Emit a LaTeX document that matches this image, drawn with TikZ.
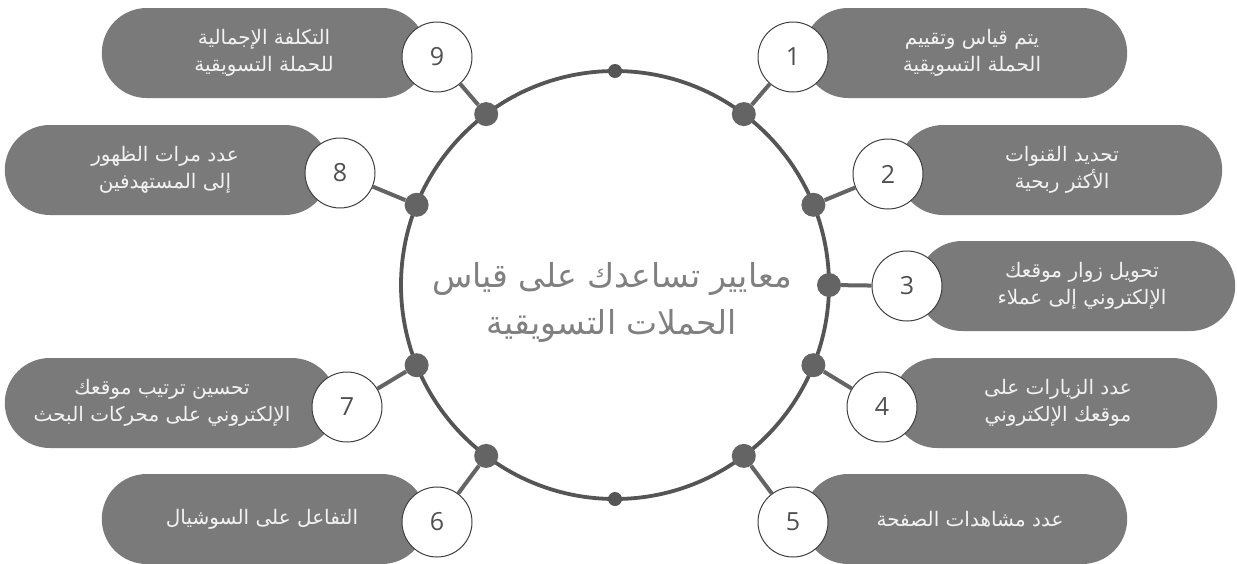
\documentclass[tikz,border=0pt]{standalone}
\usepackage{fontspec}
\TeXXeTstate=1
\setmainfont{Open Sans}
\newfontfamily\arabicfont[Script=Arabic]{DejaVu Sans}
\definecolor{pillgray}{RGB}{122,122,122}
\definecolor{ringgray}{RGB}{85,85,85}
\definecolor{dotgray}{RGB}{100,100,100}
\definecolor{numgray}{RGB}{80,80,80}
\definecolor{titlegray}{RGB}{128,128,128}
\definecolor{pilltext}{RGB}{242,242,242}
\tikzset{
  ring/.style={draw=ringgray, line width=3.8pt},
  bigdot/.style={circle, fill=dotgray, inner sep=0pt, minimum size=24pt},
  smalldot/.style={circle, fill=ringgray, inner sep=0pt, minimum size=14pt},
  link/.style={draw=dotgray, line width=4pt},
  pill/.style={fill=pillgray, rounded corners=45pt, minimum height=90pt, inner sep=0pt},
  numcirc/.style={circle, fill=white, draw=numgray!80!black, line width=1pt, minimum size=70pt, inner sep=0pt, text=numgray, font=\fontsize{25}{25}\selectfont},
  pilllabel/.style={text=pilltext, align=center, font=\arabicfont\fontsize{20}{27}\selectfont},
  titlelabel/.style={text=titlegray, align=center, font=\arabicfont\fontsize{33}{47}\selectfont}
}
\begin{document}
\begin{tikzpicture}[x=1pt,y=-1pt]
\useasboundingbox (0,0) rectangle (1237,563);
\fill[white] (0,0) rectangle (1237,563);
% main ring
\node[circle, ring, minimum size=428pt, inner sep=0pt] (ring) at (615,285) {};
% pills (right)
\node[pill, minimum width=324pt, anchor=west] (p1) at (803,53) {};
\node[pill, minimum width=324pt, anchor=west] (p2) at (898,170) {};
\node[pill, minimum width=318pt, anchor=west] (p3) at (917,286) {};
\node[pill, minimum width=325pt, anchor=west] (p4) at (892,403) {};
\node[pill, minimum width=324pt, anchor=west] (p5) at (803,519) {};
% pills (left)
\node[pill, minimum width=325pt, anchor=east] (p9) at (427,53) {};
\node[pill, minimum width=325pt, anchor=east] (p8) at (330,170) {};
\node[pill, minimum width=332pt, anchor=east] (p7) at (337,403) {};
\node[pill, minimum width=325pt, anchor=east] (p6) at (427,519) {};
% dots on ring
\node[bigdot] (d1) at (743.8,114.1) {};
\node[bigdot] (d2) at (813.4,204.8) {};
\node[bigdot] (d3) at (829,285) {};
\node[bigdot] (d4) at (813.4,365.2) {};
\node[bigdot] (d5) at (743.8,455.9) {};
\node[bigdot] (d6) at (486.2,455.9) {};
\node[bigdot] (d7) at (416.6,365.2) {};
\node[bigdot] (d8) at (416.6,204.8) {};
\node[bigdot] (d9) at (486.2,114.1) {};
\node[smalldot] (dt) at (615,71) {};
\node[smalldot] (db) at (615,499) {};
% number circles
\node[numcirc] (n1) at (793,57) {1};
\node[numcirc] (n2) at (888,174) {2};
\node[numcirc] (n3) at (907,286) {3};
\node[numcirc] (n4) at (882,407) {4};
\node[numcirc] (n5) at (793,522) {5};
\node[numcirc] (n6) at (437,522) {6};
\node[numcirc] (n7) at (347,407) {7};
\node[numcirc] (n8) at (340,173) {8};
\node[numcirc] (n9) at (437,57) {9};
% connectors
\foreach \i in {1,...,9} { \draw[link] (d\i) -- (n\i); }
% pill texts
\node[pilllabel] (t1) at (972,53) {\beginR يتم قياس وتقييم\endR\\\beginR الحملة التسويقية\endR};
\node[pilllabel] (t2) at (1062,170) {\beginR تحديد القنوات\endR\\\beginR الأكثر ربحية\endR};
\node[pilllabel] (t3) at (1082,286) {\beginR تحويل زوار موقعك\endR\\\beginR الإلكتروني إلى عملاء\endR};
\node[pilllabel] (t4) at (1058,403) {\beginR عدد الزيارات على\endR\\\beginR موقعك الإلكتروني\endR};
\node[pilllabel] (t5) at (970,519) {\beginR عدد مشاهدات الصفحة\endR};
\node[pilllabel] (t9) at (264,53) {\beginR التكلفة الإجمالية\endR\\\beginR للحملة التسويقية\endR};
\node[pilllabel] (t8) at (165,170) {\beginR عدد مرات الظهور\endR\\\beginR إلى المستهدفين\endR};
\node[pilllabel] (t7) at (162,403) {\beginR تحسين ترتيب موقعك\endR\\\beginR الإلكتروني على محركات البحث\endR};
\node[pilllabel] (t6) at (262,519) {\beginR التفاعل على السوشيال\endR};
% title
\node[titlelabel] (title) at (612,302) {\beginR معايير تساعدك على قياس\endR\\\beginR الحملات التسويقية\endR};
\end{tikzpicture}
\end{document}
